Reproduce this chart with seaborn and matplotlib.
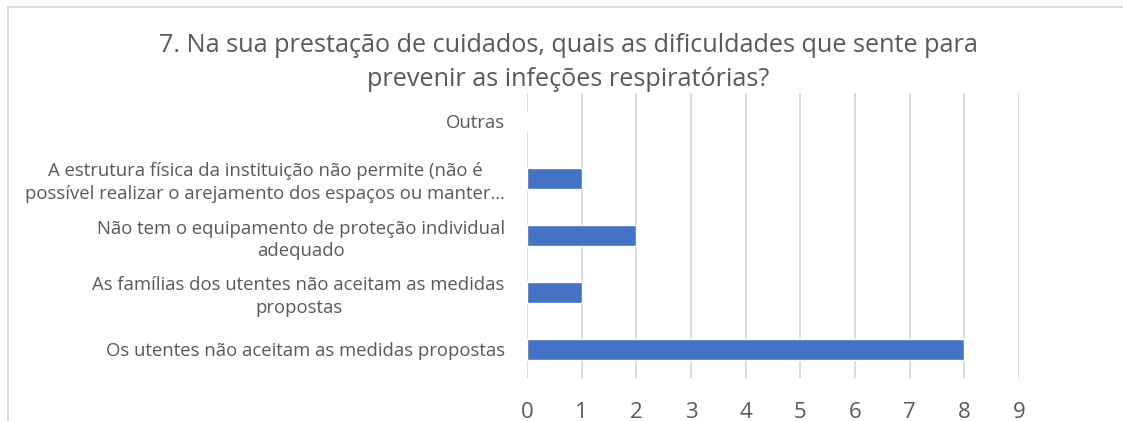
import matplotlib
matplotlib.use("Agg")
import matplotlib.pyplot as plt
import seaborn as sns
import pandas as pd
from matplotlib.lines import Line2D

title = "7. Na sua prestação de cuidados, quais as dificuldades que sente para\nprevenir as infeções respiratórias?"
categories = [
    "Outras",
    "A estrutura física da instituição não permite (não é\npossível realizar o arejamento dos espaços ou manter…",
    "Não tem o equipamento de proteção individual\nadequado",
    "As famílias dos utentes não aceitam as medidas\npropostas",
    "Os utentes não aceitam as medidas propostas",
]
values = [0, 1, 2, 1, 8]
x_ticks = [0, 1, 2, 3, 4, 5, 6, 7, 8, 9]

sns.set_theme(style="white")
plt.rcParams["font.family"] = ["Open Sans", "DejaVu Sans"]

TEXT = "#595959"
GRID = "#D9D9D9"
BAR = "#4472C4"

W, H = 1123, 421
fig = plt.figure(figsize=(W / 100, H / 100), dpi=100)
fig.patch.set_facecolor("white")
ax = fig.add_axes([527 / W, 1 - 378 / H, (1019 - 527) / W, (378 - 93) / H])

df = pd.DataFrame({"cat": categories, "val": values})
sns.barplot(data=df, x="val", y="cat", orient="h", color=BAR, width=0.37,
            saturation=1, ax=ax, zorder=3)

ax.set_xlim(0, 9)
ax.set_xticks(x_ticks)
ax.set_xticklabels([str(t) for t in x_ticks])
ax.set_xlabel("")
ax.set_ylabel("")
ax.grid(axis="x", color=GRID, linewidth=1.3, zorder=0)
ax.grid(axis="y", visible=False)
for s in ax.spines.values():
    s.set_visible(False)
ax.tick_params(axis="x", length=0, pad=17, labelsize=16, labelcolor=TEXT)
ax.tick_params(axis="y", length=0, pad=16, labelsize=13.3, labelcolor=TEXT)
for lbl in ax.get_yticklabels():
    lbl.set_multialignment("center")
    lbl.set_linespacing(1.32)

fig.text(568 / W, 1 - 33 / H, title, ha="center", va="top", fontsize=18.2,
         color=TEXT, linespacing=1.5)

fig.add_artist(Line2D([8 / W, 1], [1 - 7 / H, 1 - 7 / H], color=GRID, lw=1.3,
                      transform=fig.transFigure))
fig.add_artist(Line2D([8 / W, 8 / W], [0, 1 - 7 / H], color=GRID, lw=1.3,
                      transform=fig.transFigure))

fig.savefig("out.png", dpi=100)
